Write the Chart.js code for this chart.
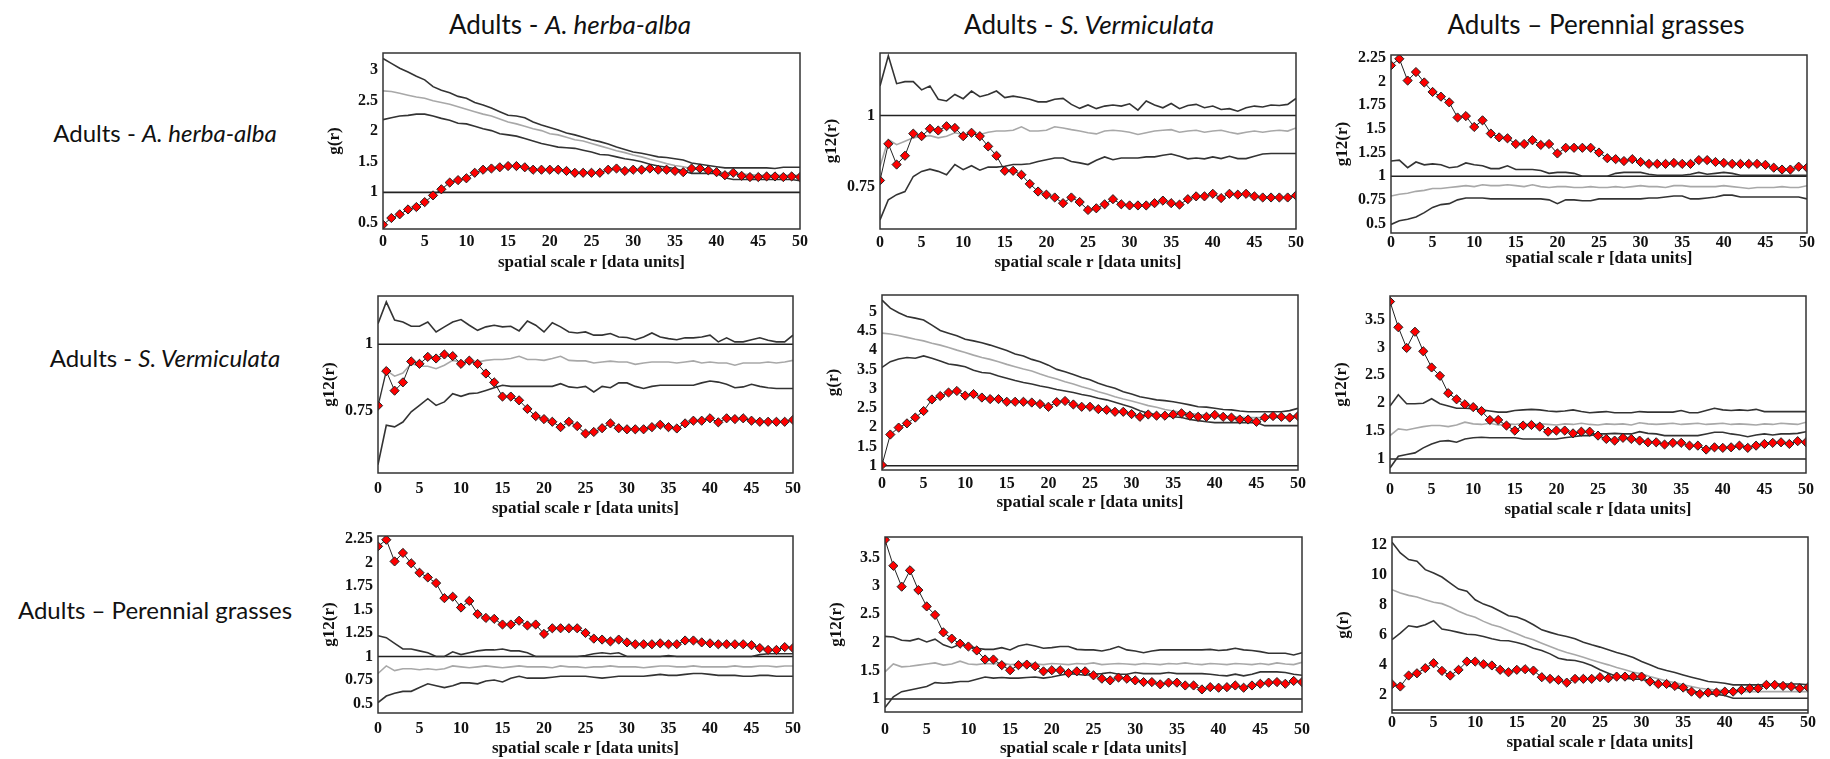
<!DOCTYPE html>
<html>
<head>
<meta charset="utf-8">
<script src="https://cdn.jsdelivr.net/npm/chart.js@4.4.1/dist/chart.umd.min.js"></script>
<style>
  body { margin: 0; background: #fff; width: 1830px; height: 759px; position: relative; overflow: hidden; font-family: Lato, "Liberation Sans", sans-serif; }
  .lbl { position: absolute; font-size: 24px; color: #111; white-space: nowrap; transform: translate(-50%, -50%); }
  .col { font-size: 26px; }
  canvas { position: absolute; }
</style>
</head>
<body>
<div class="lbl col" style="left:570px;top:24px">Adults - <i>A. herba-alba</i></div>
<div class="lbl col" style="left:1089px;top:24px">Adults - <i>S. Vermiculata</i></div>
<div class="lbl col" style="left:1596px;top:24px">Adults – Perennial grasses</div>
<div class="lbl" style="left:165px;top:132px">Adults - <i>A. herba-alba</i></div>
<div class="lbl" style="left:165px;top:357px">Adults - <i>S. Vermiculata</i></div>
<div class="lbl" style="left:155px;top:609px">Adults – Perennial grasses</div>

<canvas id="p1"></canvas><canvas id="p2"></canvas><canvas id="p3"></canvas>
<canvas id="p4"></canvas><canvas id="p5"></canvas><canvas id="p6"></canvas>
<canvas id="p7"></canvas><canvas id="p8"></canvas><canvas id="p9"></canvas>

<script>
// spatial scale r
var r = [0,1,2,3,4,5,6,7,8,9,10,11,12,13,14,15,16,17,18,19,20,21,22,23,24,25,
         26,27,28,29,30,31,32,33,34,35,36,37,38,39,40,41,42,43,44,45,46,47,48,49,50];

// observed g(r) / g12(r)
var obsAA = [0.47,0.58,0.64,0.72,0.76,0.84,0.95,1.05,1.16,1.20, 1.23,1.32,1.37,1.39,1.41,1.43,1.43,1.41,1.37,1.37,
  1.37,1.37,1.35,1.32,1.32,1.32,1.32,1.37,1.39,1.35, 1.37,1.37,1.39,1.37,1.37,1.35,1.33,1.39,1.39,1.36,
  1.33,1.28,1.32,1.27,1.25,1.25,1.26,1.26,1.25,1.26,1.25];
var obsAASV = [0.771,0.90,0.827,0.858,0.936,0.927,0.953,0.947,0.962,0.956, 0.927,0.939,0.927,0.891,0.858,0.805,0.805,0.791,0.759,0.732,
  0.721,0.711,0.691,0.711,0.695,0.667,0.673,0.687,0.705,0.687, 0.683,0.683,0.683,0.691,0.700,0.691,0.686,0.705,0.715,0.715,
  0.724,0.709,0.724,0.721,0.724,0.715,0.711,0.711,0.711,0.711,0.718];
var obsAAPG = [2.17,2.24,2.01,2.10,1.99,1.89,1.84,1.78,1.62,1.635, 1.52,1.59,1.45,1.41,1.40,1.34,1.34,1.38,1.33,1.34,
  1.24,1.30,1.30,1.30,1.30,1.25,1.19,1.18,1.16,1.18, 1.15,1.13,1.13,1.13,1.14,1.13,1.13,1.17,1.17,1.15,
  1.14,1.13,1.13,1.13,1.13,1.12,1.09,1.07,1.07,1.10,1.09];
var obsSV = [1.02,1.81,1.99,2.10,2.25,2.42,2.72,2.81,2.90,2.94, 2.82,2.86,2.77,2.73,2.73,2.66,2.66,2.66,2.64,2.60,
  2.53,2.65,2.68,2.59,2.53,2.53,2.47,2.45,2.40,2.40, 2.34,2.27,2.33,2.30,2.30,2.33,2.36,2.30,2.27,2.27,
  2.32,2.27,2.25,2.20,2.20,2.14,2.25,2.29,2.27,2.25,2.29];
var obsSVPG = [3.82,3.36,2.99,3.28,2.93,2.64,2.49,2.18,2.07,1.98, 1.93,1.86,1.70,1.70,1.60,1.51,1.60,1.61,1.58,1.49,
  1.51,1.51,1.46,1.49,1.49,1.42,1.36,1.33,1.38,1.36, 1.33,1.30,1.30,1.26,1.29,1.29,1.24,1.24,1.17,1.21,
  1.20,1.21,1.24,1.20,1.24,1.27,1.29,1.30,1.27,1.32,1.30];
var obsPG = [2.71,2.56,3.29,3.44,3.78,4.11,3.60,3.29,3.67,4.22, 4.22,4.04,3.96,3.67,3.51,3.67,3.71,3.62,3.18,3.07,
  3.00,2.82,3.07,3.07,3.07,3.18,3.11,3.22,3.22,3.22, 3.22,2.89,2.73,2.73,2.60,2.49,2.22,2.07,2.16,2.16,
  2.22,2.22,2.33,2.44,2.44,2.67,2.67,2.60,2.56,2.44,2.51];

// simulation envelopes: upper, mean, lower
var hiAA = [3.19,3.11,3.03,2.97,2.90,2.84,2.73,2.67,2.63,2.57, 2.54,2.47,2.43,2.38,2.32,2.26,2.25,2.22,2.15,2.10,
  2.06,2.02,1.97,1.94,1.90,1.86,1.83,1.79,1.74,1.70, 1.66,1.64,1.61,1.58,1.57,1.55,1.53,1.48,1.46,1.44,
  1.42,1.40,1.40,1.40,1.40,1.40,1.40,1.39,1.41,1.41,1.41];
var meanAA = [2.66,2.65,2.62,2.59,2.56,2.54,2.50,2.47,2.44,2.40, 2.36,2.32,2.28,2.25,2.20,2.15,2.12,2.08,2.04,2.01,
  1.96,1.94,1.90,1.86,1.84,1.80,1.76,1.72,1.68,1.65, 1.61,1.58,1.54,1.51,1.47,1.44,1.42,1.39,1.37,1.35,
  1.33,1.32,1.31,1.30,1.29,1.28,1.28,1.28,1.28,1.28,1.28];
var loAA = [2.19,2.22,2.25,2.26,2.28,2.28,2.25,2.21,2.18,2.13, 2.12,2.08,2.04,2.01,1.96,1.94,1.92,1.88,1.84,1.80,
  1.77,1.74,1.73,1.72,1.69,1.66,1.62,1.61,1.58,1.55, 1.53,1.50,1.46,1.43,1.41,1.39,1.35,1.31,1.31,1.31,
  1.31,1.24,1.21,1.21,1.21,1.21,1.21,1.21,1.21,1.21,1.19];

var hiAASV = [1.104,1.21,1.112,1.119,1.119,1.09,1.104,1.057,1.051,1.074, 1.059,1.086,1.066,1.074,1.086,1.063,1.068,1.063,1.057,1.048,
  1.048,1.057,1.06,1.039,1.025,1.037,1.024,1.033,1.037,1.033, 1.041,1.019,1.051,1.037,1.027,1.042,1.024,1.035,1.039,1.027,
  1.033,1.021,1.024,1.015,1.027,1.033,1.03,1.037,1.035,1.039,1.06];
var meanAASV = [0.82,0.915,0.897,0.909,0.921,0.927,0.929,0.921,0.927,0.939, 0.933,0.935,0.933,0.941,0.945,0.945,0.948,0.96,0.945,0.945,
  0.948,0.96,0.956,0.95,0.945,0.939,0.935,0.945,0.948,0.945, 0.941,0.933,0.939,0.945,0.948,0.95,0.941,0.945,0.948,0.941,
  0.945,0.948,0.941,0.935,0.941,0.945,0.941,0.945,0.948,0.945,0.956];
var loAASV = [0.632,0.703,0.721,0.732,0.785,0.803,0.811,0.803,0.791,0.827, 0.809,0.823,0.807,0.818,0.818,0.821,0.827,0.827,0.83,0.838,
  0.844,0.85,0.85,0.838,0.833,0.827,0.842,0.854,0.844,0.85, 0.85,0.85,0.854,0.854,0.86,0.864,0.856,0.847,0.85,0.847,
  0.854,0.848,0.856,0.848,0.848,0.856,0.864,0.866,0.866,0.866,0.866];

var hiAAPG = [1.16,1.17,1.09,1.15,1.12,1.13,1.12,1.09,1.10,1.14, 1.12,1.11,1.08,1.08,1.11,1.07,1.07,1.07,1.06,1.03,
  1.04,1.04,1.03,1.00,1.00,1.00,1.00,1.03,1.04,1.04, 1.04,1.02,1.01,1.01,1.01,1.01,1.02,1.04,1.02,1.03,
  1.04,1.03,1.01,1.01,1.01,1.01,1.01,1.01,1.01,1.01,1.01];
var meanAAPG = [0.79,0.81,0.82,0.84,0.85,0.87,0.87,0.88,0.89,0.90, 0.89,0.91,0.90,0.90,0.91,0.90,0.89,0.91,0.89,0.88,
  0.89,0.89,0.88,0.88,0.89,0.88,0.88,0.89,0.88,0.89, 0.90,0.89,0.89,0.88,0.90,0.90,0.89,0.89,0.89,0.89,
  0.90,0.89,0.88,0.87,0.88,0.88,0.88,0.89,0.88,0.88,0.90];
var loAAPG = [0.49,0.53,0.545,0.57,0.615,0.67,0.70,0.71,0.75,0.77, 0.77,0.77,0.76,0.76,0.76,0.76,0.76,0.76,0.76,0.75,
  0.71,0.75,0.75,0.74,0.74,0.76,0.76,0.76,0.76,0.76, 0.76,0.77,0.77,0.78,0.79,0.79,0.76,0.76,0.77,0.78,
  0.80,0.80,0.78,0.78,0.78,0.78,0.78,0.78,0.78,0.78,0.76];

var hiSVAA = [1.077,1.158,1.09,1.083,1.067,1.067,1.083,1.046,1.065,1.083, 1.092,1.071,1.052,1.065,1.071,1.065,1.067,1.05,1.087,1.071,
  1.046,1.08,1.065,1.046,1.042,1.046,1.034,1.034,1.04,1.027, 1.025,1.017,1.027,1.042,1.027,1.021,1.017,1.024,1.024,1.027,
  1.034,1.009,1.024,1.009,1.009,1.017,1.024,1.015,1.009,1.009,1.034];
var meanSVAA = [0.766,0.903,0.881,0.893,0.928,0.918,0.918,0.909,0.922,0.94, 0.934,0.934,0.934,0.94,0.943,0.943,0.947,0.955,0.943,0.943,
  0.94,0.947,0.955,0.94,0.938,0.938,0.93,0.934,0.937,0.934, 0.934,0.925,0.93,0.934,0.934,0.934,0.93,0.934,0.938,0.93,
  0.934,0.93,0.93,0.922,0.93,0.93,0.93,0.934,0.93,0.934,0.94];
var loSVAA = [0.551,0.698,0.692,0.71,0.748,0.772,0.797,0.772,0.785,0.816, 0.806,0.816,0.818,0.828,0.838,0.847,0.843,0.843,0.843,0.843,
  0.843,0.843,0.853,0.841,0.838,0.843,0.822,0.843,0.838,0.856, 0.856,0.843,0.835,0.843,0.847,0.847,0.847,0.847,0.847,0.856,
  0.863,0.859,0.851,0.838,0.841,0.851,0.843,0.838,0.835,0.835,0.835];

var hiSV = [5.30,5.09,4.97,4.87,4.83,4.78,4.65,4.51,4.44,4.37, 4.28,4.24,4.19,4.13,4.06,3.99,3.90,3.85,3.76,3.70,
  3.61,3.50,3.44,3.37,3.29,3.23,3.14,3.07,3.01,2.92, 2.86,2.79,2.75,2.71,2.69,2.66,2.62,2.58,2.53,2.52,
  2.49,2.46,2.45,2.42,2.40,2.40,2.40,2.40,2.40,2.43,2.49];
var meanSV = [4.44,4.42,4.38,4.33,4.28,4.24,4.18,4.13,4.07,4.00, 3.94,3.87,3.81,3.76,3.70,3.63,3.57,3.51,3.46,3.38,
  3.31,3.25,3.18,3.12,3.05,2.99,2.92,2.86,2.79,2.73, 2.68,2.62,2.56,2.52,2.46,2.42,2.39,2.36,2.33,2.32,
  2.30,2.29,2.27,2.26,2.25,2.25,2.25,2.25,2.25,2.25,2.25];
var loSV = [3.55,3.70,3.77,3.81,3.79,3.85,3.79,3.72,3.64,3.61, 3.57,3.48,3.42,3.40,3.33,3.27,3.21,3.16,3.12,3.07,
  3.03,2.98,2.94,2.90,2.85,2.81,2.75,2.71,2.65,2.58, 2.52,2.43,2.36,2.32,2.29,2.27,2.25,2.20,2.17,2.14,
  2.12,2.12,2.12,2.12,2.12,2.12,2.04,2.04,2.04,2.04,2.04];

var hiSVPG = [1.95,2.15,1.99,1.99,2.00,2.08,1.99,1.95,1.91,1.91, 1.90,1.88,1.86,1.84,1.84,1.87,1.88,1.89,1.88,1.86,
  1.85,1.86,1.88,1.85,1.83,1.84,1.85,1.83,1.83,1.83, 1.85,1.84,1.84,1.84,1.84,1.87,1.83,1.83,1.87,1.91,
  1.88,1.87,1.88,1.87,1.89,1.85,1.85,1.85,1.85,1.85,1.85];
var meanSVPG = [1.42,1.54,1.52,1.55,1.58,1.60,1.60,1.58,1.61,1.66, 1.63,1.62,1.64,1.61,1.63,1.62,1.64,1.61,1.63,1.62,
  1.61,1.63,1.62,1.64,1.62,1.61,1.63,1.62,1.63,1.61, 1.65,1.63,1.62,1.63,1.64,1.62,1.63,1.64,1.62,1.63,
  1.64,1.62,1.63,1.62,1.61,1.63,1.62,1.64,1.63,1.62,1.66];
var loSVPG = [0.84,1.05,1.08,1.11,1.20,1.27,1.32,1.33,1.30,1.36, 1.38,1.39,1.38,1.38,1.38,1.38,1.36,1.36,1.36,1.36,
  1.36,1.38,1.40,1.42,1.42,1.45,1.45,1.46,1.45,1.45, 1.49,1.46,1.45,1.42,1.42,1.42,1.42,1.42,1.45,1.48,
  1.48,1.45,1.43,1.40,1.43,1.45,1.43,1.45,1.45,1.46,1.49];

var hiPGAA = [1.22,1.20,1.14,1.08,1.08,1.06,1.04,1.00,1.00,1.05, 1.02,1.04,1.06,1.07,1.07,1.08,1.06,1.06,1.04,1.00,
  1.00,1.00,1.00,1.00,1.00,1.01,1.03,1.04,1.03,1.04, 1.00,1.00,1.00,1.00,1.00,1.01,1.00,1.00,1.00,1.00,
  1.00,1.00,1.00,1.00,1.00,1.00,1.02,1.03,1.03,1.03,1.03];
var meanPGAA = [0.82,0.90,0.85,0.87,0.87,0.86,0.87,0.86,0.87,0.90, 0.89,0.88,0.89,0.90,0.89,0.88,0.89,0.90,0.89,0.89,
  0.89,0.88,0.90,0.89,0.89,0.88,0.89,0.89,0.90,0.89, 0.89,0.89,0.88,0.89,0.90,0.90,0.89,0.89,0.90,0.89,
  0.89,0.89,0.89,0.90,0.89,0.89,0.90,0.90,0.89,0.90,0.90];
var loPGAA = [0.51,0.58,0.61,0.63,0.63,0.67,0.71,0.69,0.67,0.69, 0.72,0.72,0.71,0.74,0.75,0.73,0.77,0.79,0.77,0.77,
  0.77,0.78,0.79,0.79,0.79,0.79,0.78,0.77,0.78,0.79, 0.79,0.79,0.79,0.80,0.81,0.80,0.80,0.81,0.82,0.82,
  0.81,0.80,0.80,0.80,0.79,0.79,0.80,0.80,0.79,0.79,0.79];

var hiPGSV = [2.11,2.10,2.04,2.03,2.07,2.01,2.06,1.96,1.91,1.97, 1.94,1.90,1.88,1.88,1.91,1.87,1.94,1.97,1.94,1.90,
  1.91,1.93,1.93,1.88,1.87,1.87,1.85,1.88,1.93,1.87, 1.85,1.82,1.85,1.87,1.87,1.87,1.87,1.87,1.87,1.88,
  1.86,1.87,1.90,1.87,1.86,1.84,1.81,1.81,1.81,1.78,1.82];
var meanPGSV = [1.48,1.62,1.57,1.58,1.60,1.62,1.64,1.60,1.62,1.67, 1.62,1.61,1.63,1.62,1.64,1.61,1.62,1.64,1.62,1.61,
  1.63,1.62,1.61,1.63,1.62,1.64,1.61,1.62,1.63,1.62, 1.61,1.63,1.62,1.61,1.63,1.62,1.64,1.62,1.61,1.63,
  1.62,1.61,1.63,1.62,1.61,1.63,1.61,1.64,1.62,1.61,1.65];
var loPGSV = [0.85,1.04,1.13,1.16,1.19,1.22,1.29,1.28,1.29,1.31, 1.31,1.35,1.39,1.37,1.38,1.37,1.37,1.38,1.39,1.37,
  1.39,1.42,1.45,1.44,1.42,1.44,1.45,1.47,1.44,1.44, 1.47,1.45,1.45,1.45,1.47,1.45,1.45,1.45,1.45,1.44,
  1.42,1.41,1.44,1.41,1.44,1.48,1.48,1.48,1.47,1.44,1.42];

var hiPG = [12.16,11.44,11.0,10.89,10.33,10.11,9.84,9.44,9.04,8.89, 8.33,8.04,7.84,7.56,7.27,7.18,6.96,6.67,6.33,6.16,
  6.0,5.89,5.73,5.51,5.33,5.18,5.0,4.82,4.67,4.49, 4.22,4.0,3.78,3.62,3.49,3.33,3.18,3.04,2.89,2.84,
  2.78,2.67,2.67,2.67,2.67,2.67,2.73,2.73,2.73,2.73,2.67];
var meanPG = [9.0,8.78,8.62,8.51,8.33,8.16,8.07,7.84,7.56,7.33, 7.16,6.89,6.67,6.51,6.29,6.07,5.84,5.67,5.44,5.22,
  5.0,4.82,4.67,4.51,4.33,4.16,4.0,3.82,3.67,3.51, 3.40,3.22,3.07,2.93,2.82,2.67,2.56,2.44,2.38,2.33,
  2.29,2.27,2.22,2.22,2.22,2.22,2.22,2.22,2.22,2.22,2.22];
var loPG = [5.67,6.11,6.60,6.51,6.67,6.93,6.38,6.29,6.16,6.04, 6.0,5.89,5.73,5.62,5.60,5.49,5.33,5.11,4.96,4.73,
  4.44,4.33,4.29,4.16,3.96,3.67,3.44,3.22,3.11,3.04, 3.04,2.89,2.78,2.62,2.51,2.38,2.27,2.16,2.07,2.04,
  1.96,1.78,1.78,1.78,1.78,1.78,1.78,1.78,1.78,1.78,1.78];

// reference level g = 1
var ref = [1, 1];
var refR = [0, 50];

// panel layout: plot box (left, top, right, bottom) in page pixels
var panels = [
  {id:'p1', obs:obsAA,   hi:hiAA,   mean:meanAA,   lo:loAA,   yt:'g(r)',   min:0.40, max:3.28, step:0.5,  box:[383,53,800,229],   tp:3.7, xh:44},
  {id:'p2', obs:obsAASV, hi:hiAASV, mean:meanAASV, lo:loAASV, yt:'g12(r)', min:0.60, max:1.22, step:0.25, box:[880,53,1296,229],  tp:4.7, xh:44},
  {id:'p3', obs:obsAAPG, hi:hiAAPG, mean:meanAAPG, lo:loAAPG, yt:'g12(r)', min:0.40, max:2.28, step:0.25, box:[1391,55,1807,233], tp:0.4, xh:36},
  {id:'p4', obs:obsAASV, hi:hiSVAA, mean:meanSVAA, lo:loSVAA, yt:'g12(r)', min:0.52, max:1.18, step:0.25, box:[378,296,793,473],  tp:6,   xh:46},
  {id:'p5', obs:obsSV,   hi:hiSV,   mean:meanSV,   lo:loSV,   yt:'g(r)',   min:0.89, max:5.43, step:0.5,  box:[882,295,1298,470], tp:4.4, xh:43},
  {id:'p6', obs:obsSVPG, hi:hiSVPG, mean:meanSVPG, lo:loSVPG, yt:'g12(r)', min:0.75, max:3.92, step:0.5,  box:[1390,296,1806,473],tp:7,   xh:47},
  {id:'p7', obs:obsAAPG, hi:hiPGAA, mean:meanPGAA, lo:loPGAA, yt:'g12(r)', min:0.40, max:2.28, step:0.25, box:[378,536,793,713],  tp:6,   xh:46},
  {id:'p8', obs:obsSVPG, hi:hiPGSV, mean:meanPGSV, lo:loPGSV, yt:'g12(r)', min:0.77, max:3.87, step:0.5,  box:[885,537,1302,712], tp:8,   xh:47},
  {id:'p9', obs:obsPG,   hi:hiPG,   mean:meanPG,   lo:loPG,   yt:'g(r)',   min:0.80, max:12.5, step:2,    box:[1392,537,1808,713],tp:0.7, xh:40}
];

var YW = 62, PADT = 20, PADR = 18;
var tickFont = {family: 'Liberation Serif', weight: 'bold', size: 16};
var titleFont = {family: 'Liberation Serif', weight: 'bold', size: 17};

var frame = {
  id: 'frame',
  afterDatasetsDraw: function (chart) {
    var a = chart.chartArea, c = chart.ctx;
    c.save();
    c.strokeStyle = '#333';
    c.lineWidth = 1.5;
    c.strokeRect(a.left, a.top, a.right - a.left, a.bottom - a.top);
    c.restore();
  }
};

function pts(xs, ys) {
  return xs.map(function (x, i) { return {x: x, y: ys[i]}; });
}

panels.forEach(function (p) {
  var cv = document.getElementById(p.id);
  var L = p.box[0], T = p.box[1], R = p.box[2], B = p.box[3];
  cv.width = (R - L) + YW + PADR;
  cv.height = (B - T) + PADT + p.xh;
  cv.style.left = (L - YW) + 'px';
  cv.style.top = (T - PADT) + 'px';

  new Chart(cv, {
    type: 'line',
    data: {
      datasets: [
        {data: pts(r, p.obs), borderColor: '#222', borderWidth: 1, pointStyle: 'rectRot', pointRadius: 4.6,
         pointBackgroundColor: '#f00', pointBorderColor: '#222', pointBorderWidth: 1},
        {data: pts(r, p.hi), borderColor: '#333', borderWidth: 1.6, pointRadius: 0},
        {data: pts(r, p.lo), borderColor: '#333', borderWidth: 1.6, pointRadius: 0},
        {data: pts(r, p.mean), borderColor: '#a8a8a8', borderWidth: 1.6, pointRadius: 0},
        {data: pts(refR, ref), borderColor: '#222', borderWidth: 1.6, pointRadius: 0}
      ]
    },
    options: {
      responsive: false,
      animation: false,
      events: [],
      layout: {padding: {top: PADT, right: PADR, left: 0, bottom: 0}},
      plugins: {legend: {display: false}, tooltip: {enabled: false}},
      scales: {
        x: {
          type: 'linear', min: 0, max: 50,
          grid: {display: false, drawTicks: false},
          border: {display: false},
          ticks: {stepSize: 5, padding: p.tp, color: '#111', font: tickFont, maxRotation: 0, autoSkip: false},
          title: {display: true, text: 'spatial scale r [data units]', color: '#111', font: titleFont, padding: {top: 0, bottom: 0}},
          afterFit: function (s) { s.height = p.xh; }
        },
        y: {
          type: 'linear', min: p.min, max: p.max,
          grid: {display: false, drawTicks: false},
          border: {display: false},
          ticks: {stepSize: p.step, includeBounds: false, autoSkip: false, padding: 5, color: '#111', font: tickFont,
                  callback: function (v) { return String(Math.round(v * 100) / 100); }},
          title: {display: true, text: p.yt, color: '#111', font: titleFont, padding: {top: 3.8, bottom: 0}},
          afterFit: function (s) { s.width = YW; }
        }
      }
    },
    plugins: [frame]
  });
});
</script>
</body>
</html>
